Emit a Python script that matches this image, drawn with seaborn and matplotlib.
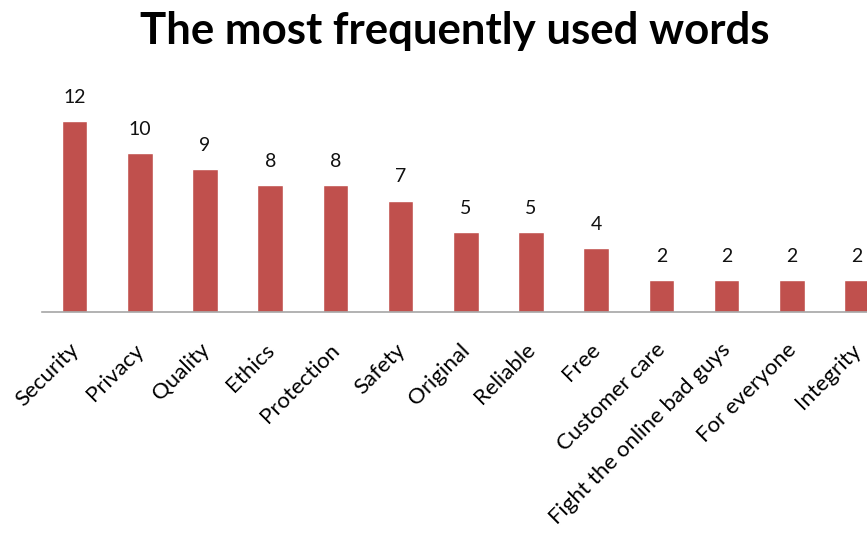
import matplotlib
matplotlib.use("Agg")
import matplotlib.pyplot as plt
import matplotlib.transforms as mtransforms
import seaborn as sns
import pandas as pd

words = ["Security", "Privacy", "Quality", "Ethics", "Protection", "Safety",
         "Original", "Reliable", "Free", "Customer care",
         "Fight the online bad guys", "For everyone", "Integrity"]
counts = [12, 10, 9, 8, 8, 7, 5, 5, 4, 2, 2, 2, 2]
title = "The most frequently used words"

sns.set_theme(style="white")
plt.rcParams['font.family'] = ['Lato', 'DejaVu Sans']

df = pd.DataFrame({"word": words, "count": counts})

W, H = 867, 543
fig = plt.figure(figsize=(W / 100, H / 100), dpi=100)
ax = fig.add_axes([42 / W, (H - 312) / H, (W - 42) / W, (312 - 80) / H])

sns.barplot(data=df, x="word", y="count", color="#C0504D", width=0.39,
            saturation=1, ax=ax, order=words)

ax.set_xlim(-0.5, (867 - 74) / 65.25)
ax.set_ylim(0, (312 - 80) / 15.92)

for i, v in enumerate(counts):
    ax.text(i, v + 0.95, str(v), ha="center", va="bottom", fontsize=14,
            color="#111111")

ax.set_xlabel("")
ax.set_ylabel("")
ax.set_yticks([])
ax.tick_params(axis="x", length=0, pad=20)
ax.set_xticks(range(len(words)))
ax.set_xticklabels(words, rotation=45, ha="right", rotation_mode="anchor",
                   fontsize=16, color="#000000")
shift = mtransforms.ScaledTranslation(-6 / 100, 0, fig.dpi_scale_trans)
for lbl in ax.get_xticklabels():
    lbl.set_transform(lbl.get_transform() + shift)
for s in ["top", "right", "left"]:
    ax.spines[s].set_visible(False)
ax.spines["bottom"].set_color("#A6A6A6")
ax.spines["bottom"].set_linewidth(1.2)

fig.text(455 / W, 1 - 31 / H, title, ha="center", va="center",
         fontsize=31.5, fontweight="bold", color="black")

fig.savefig("out.png", dpi=100)
